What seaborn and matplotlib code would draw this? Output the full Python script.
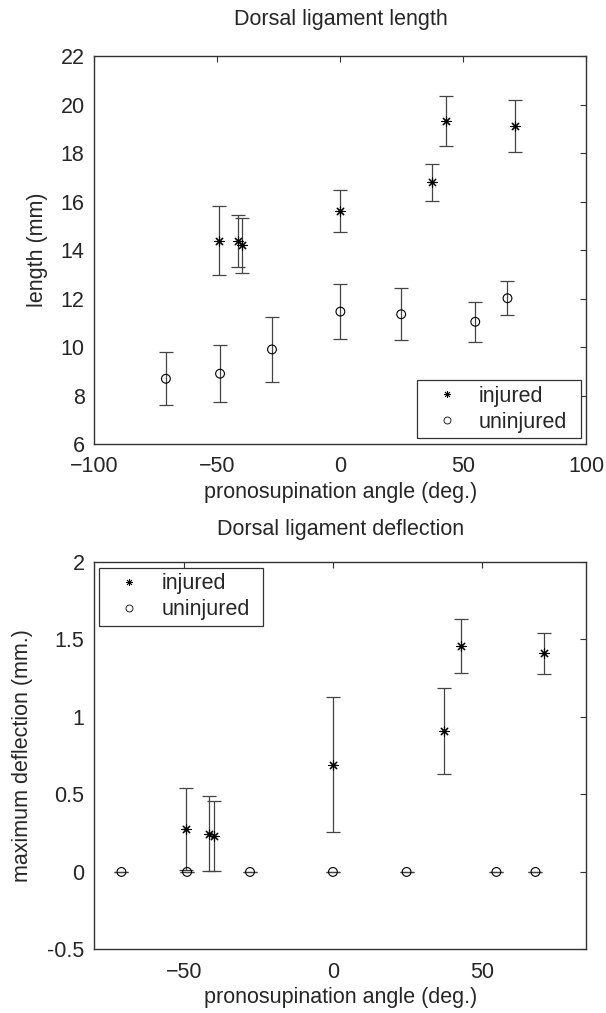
import numpy as np
import pandas as pd
import matplotlib
matplotlib.use("Agg")
import matplotlib.pyplot as plt
from matplotlib.lines import Line2D
import seaborn as sns

# ---- data ----
injured_angle = [-49.2, -41.7, -39.9, 0.0, 37.2, 42.8, 70.8]
uninjured_angle = [-70.9, -48.9, -27.8, 0.0, 24.7, 54.8, 67.9]

length_injured = [14.38, 14.37, 14.19, 15.61, 16.80, 19.31, 19.12]
length_injured_err = [1.43, 1.09, 1.13, 0.86, 0.76, 1.03, 1.08]
length_uninjured = [8.69, 8.90, 9.90, 11.46, 11.35, 11.04, 12.01]
length_uninjured_err = [1.09, 1.18, 1.34, 1.13, 1.07, 0.83, 0.70]

defl_injured = [0.275, 0.247, 0.230, 0.691, 0.906, 1.454, 1.409]
defl_injured_err = [0.264, 0.243, 0.226, 0.434, 0.277, 0.174, 0.131]
defl_uninjured = [0.0, 0.0, 0.0, 0.0, 0.0, 0.0, 0.0]
defl_uninjured_err = [0.0, 0.0, 0.0, 0.0, 0.0, 0.0, 0.0]

series_labels = ["injured", "uninjured"]
titles = ["Dorsal ligament length", "Dorsal ligament deflection"]
xlabel = "pronosupination angle (deg.)"
ylabels = ["length (mm)", "maximum deflection (mm.)"]
top_xticks = [-100, -50, 0, 50, 100]
top_yticks = [6, 8, 10, 12, 14, 16, 18, 20, 22]
bot_xticks = [-50, 0, 50]
bot_yticks = [-0.5, 0, 0.5, 1, 1.5, 2]

# ---- style ----
sns.set_style("white")
plt.rcParams["font.family"] = ["Liberation Sans", "DejaVu Sans"]
FS = 15.5
spine_col = "#333333"
err_col = "#444444"
star = (8, 2, 0)

fig = plt.figure(figsize=(6.06, 10.13), dpi=100)
ax1 = fig.add_axes([0.1556, 0.5617, 0.8122, 0.3830])
ax2 = fig.add_axes([0.1556, 0.0627, 0.8122, 0.3828])


def panel(ax, yi, yie, yu, yue, title, ylabel, xlim, ylim, xt, yt,
          tpad, ylpad):
    ax.errorbar(injured_angle, yi, yerr=yie, fmt="none", ecolor=err_col,
                elinewidth=0.9, capsize=4.8, capthick=0.9, zorder=2)
    ax.errorbar(uninjured_angle, yu, yerr=yue, fmt="none", ecolor=err_col,
                elinewidth=0.9, capsize=4.8, capthick=0.9, zorder=2)
    sns.scatterplot(x=injured_angle, y=yi, marker=star, s=45, color="black",
                    linewidth=0.8, ax=ax, zorder=3)
    sns.scatterplot(x=uninjured_angle, y=yu, marker="o", s=40,
                    facecolor="none", edgecolor="black", linewidth=0.8,
                    ax=ax, zorder=3)
    ax.set_xlim(*xlim)
    ax.set_ylim(*ylim)
    ax.set_xticks(xt)
    ax.set_yticks(yt)
    ax.set_yticklabels([f"{v:g}" for v in yt])
    ax.tick_params(direction="in", length=4, width=0.8, color=spine_col,
                   top=True, right=True, labelsize=FS)
    ax.tick_params(axis="x", pad=9)
    ax.tick_params(axis="y", pad=7)
    for sp in ax.spines.values():
        sp.set_color(spine_col)
        sp.set_linewidth(1.0)
        sp.set_visible(True)
    ax.set_title(title, fontsize=FS, pad=tpad)
    ax.set_xlabel(xlabel, fontsize=FS, labelpad=3)
    ax.set_ylabel(ylabel, fontsize=FS, labelpad=ylpad)


panel(ax1, length_injured, length_injured_err, length_uninjured,
      length_uninjured_err, titles[0], ylabels[0], (-100, 100), (6, 22),
      top_xticks, top_yticks, 22.5, 9)
panel(ax2, defl_injured, defl_injured_err, defl_uninjured,
      defl_uninjured_err, titles[1], ylabels[1], (-80, 85), (-0.5, 2),
      bot_xticks, bot_yticks, 19, 10.5)

handles = [
    Line2D([], [], linestyle="none", marker=star, markersize=5,
           color="black", markeredgewidth=0.6),
    Line2D([], [], linestyle="none", marker="o", markersize=5,
           markerfacecolor="none", markeredgecolor="black",
           markeredgewidth=0.6),
]
legkw = dict(fontsize=FS, frameon=True, fancybox=False, framealpha=1,
             edgecolor=spine_col, borderaxespad=0, handlelength=2.29,
             handletextpad=0.34, borderpad=0.25, labelspacing=0.25,
             mode="expand")
leg1 = ax1.legend(handles, series_labels, loc="lower left",
                  bbox_to_anchor=(0.6548, 0.0147, 0.3337, 0.14), **legkw)
leg2 = ax2.legend(handles, series_labels, loc="upper left",
                  bbox_to_anchor=(0.0102, 0.8455, 0.333, 0.139), **legkw)
for lg in (leg1, leg2):
    lg.get_frame().set_linewidth(0.9)

fig.savefig("out.png", dpi=100)
